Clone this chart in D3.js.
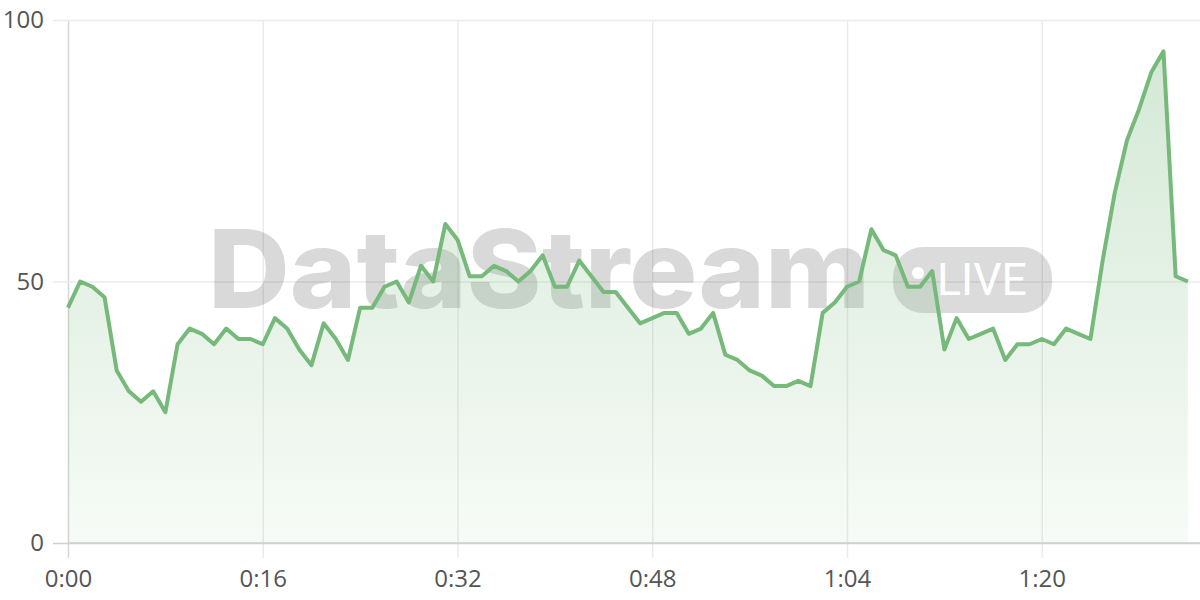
<!DOCTYPE html>
<html>
<head>
<meta charset="utf-8">
<script src="https://cdn.jsdelivr.net/npm/d3@7"></script>
<style>
  html, body { margin: 0; padding: 0; background: #fff; }
  svg { display: block; }
</style>
</head>
<body>
<svg id="chart" width="1200" height="600"></svg>
<script>
// ---- data ----
const seconds = d3.range(0, 93); // one sample per second, 0:00 .. 1:32
const values = [
  45, 50, 49, 47, 33, 29, 27, 29, 25, 38,
  41, 40, 38, 41, 39, 39, 38, 43, 41, 37,
  34, 42, 39, 35, 45, 45, 49, 50, 46, 53,
  50, 61, 58, 51, 51, 53, 52, 50, 52, 55,
  49, 49, 54, 51, 48, 48, 45, 42, 43, 44,
  44, 40, 41, 44, 36, 35, 33, 32, 30, 30,
  31, 30, 44, 46, 49, 50, 60, 56, 55, 49,
  49, 52, 37, 43, 39, 40, 41, 35, 38, 38,
  39, 38, 41, 40, 39, 54, 67, 77, 83, 90,
  94, 51, 50
];
const xTickValues = [0, 16, 32, 48, 64, 80];
const yTickValues = [0, 50, 100];
const watermarkText = "DataStream";
const badgeText = "LIVE";

// ---- layout ----
const svg = d3.select("#chart");
const mLeft = 68, mRight = 1200, mTop = 20, mBottom = 543;

const x = d3.scaleLinear().domain([0, 93]).range([mLeft, mRight]);
const y = d3.scaleLinear().domain([0, 100]).range([mBottom, mTop]);

const fmt = s => Math.floor(s / 60) + ":" + String(s % 60).padStart(2, "0");
const font = "'Open Sans', 'Noto Sans', sans-serif";

// gradient
const defs = svg.append("defs");
const grad = defs.append("linearGradient")
  .attr("id", "areaGrad").attr("x1", 0).attr("y1", 0).attr("x2", 0).attr("y2", 1);
grad.append("stop").attr("offset", "0%").attr("stop-color", "#78b97c").attr("stop-opacity", 0.32);
grad.append("stop").attr("offset", "100%").attr("stop-color", "#78b97c").attr("stop-opacity", 0.06);

// grid: vertical
const gx = svg.append("g")
  .attr("transform", `translate(0,${mBottom})`)
  .call(d3.axisBottom(x).tickValues(xTickValues).tickFormat(fmt)
        .tickSize(-(mBottom - mTop)).tickPadding(24).tickSizeOuter(0));
gx.select(".domain").remove();
gx.selectAll(".tick line")
  .attr("stroke", d => d === 0 ? "#d6d6d6" : "#ebebeb")
  .attr("stroke-width", 1.5)
  .attr("y2", -(mBottom - mTop)).attr("y1", 15);
gx.selectAll(".tick text")
  .attr("fill", "#555").attr("font-size", 24).attr("font-family", font)
  .attr("y", 27).attr("dy", "0.71em");

// grid: horizontal
const gy = svg.append("g")
  .attr("transform", `translate(${mLeft},0)`)
  .call(d3.axisLeft(y).tickValues(yTickValues)
        .tickSize(-(mRight - mLeft)).tickPadding(24).tickSizeOuter(0));
gy.select(".domain").remove();
gy.selectAll(".tick line")
  .attr("stroke", d => d === 0 ? "#d0d0d0" : "#ebebeb")
  .attr("stroke-width", 1.5)
  .attr("x1", -15).attr("x2", mRight - mLeft);
gy.selectAll(".tick text")
  .attr("fill", "#555").attr("font-size", 24).attr("font-family", font)
  .attr("x", -24);

// watermark
const wm = svg.append("g").attr("pointer-events", "none");
wm.append("text")
  .attr("x", 208).attr("y", 308)
  .attr("font-family", "Inter, 'Liberation Sans', sans-serif")
  .attr("font-weight", 800)
  .attr("font-size", 108)
  .attr("textLength", 662).attr("lengthAdjust", "spacingAndGlyphs")
  .attr("fill", "rgba(0,0,0,0.15)")
  .text(watermarkText);
wm.append("rect")
  .attr("x", 893).attr("y", 247).attr("width", 159).attr("height", 66)
  .attr("rx", 30).attr("ry", 30)
  .attr("fill", "rgba(0,0,0,0.14)");
wm.append("circle").attr("cx", 918).attr("cy", 273).attr("r", 6).attr("fill", "#fff");
wm.append("text")
  .attr("x", 937).attr("y", 295)
  .attr("font-family", "Roboto, 'Noto Sans', sans-serif")
  .attr("font-size", 45)
  .attr("textLength", 90).attr("lengthAdjust", "spacingAndGlyphs")
  .attr("fill", "#fff")
  .text(badgeText);

// area + line
const pts = seconds.map((s, i) => ({ s, v: values[i] }));
svg.append("path")
  .datum(pts)
  .attr("fill", "url(#areaGrad)")
  .attr("d", d3.area().x(d => x(d.s)).y0(y(0)).y1(d => y(d.v)));
svg.append("path")
  .datum(pts)
  .attr("fill", "none")
  .attr("stroke", "#76b97b")
  .attr("stroke-width", 4)
  .attr("stroke-linejoin", "round")
  .attr("d", d3.line().x(d => x(d.s)).y(d => y(d.v)));

// bottom axis line on top
svg.append("line")
  .attr("x1", mLeft).attr("x2", mRight).attr("y1", mBottom).attr("y2", mBottom)
  .attr("stroke", "#d0d0d0").attr("stroke-width", 1.5);
</script>
</body>
</html>
